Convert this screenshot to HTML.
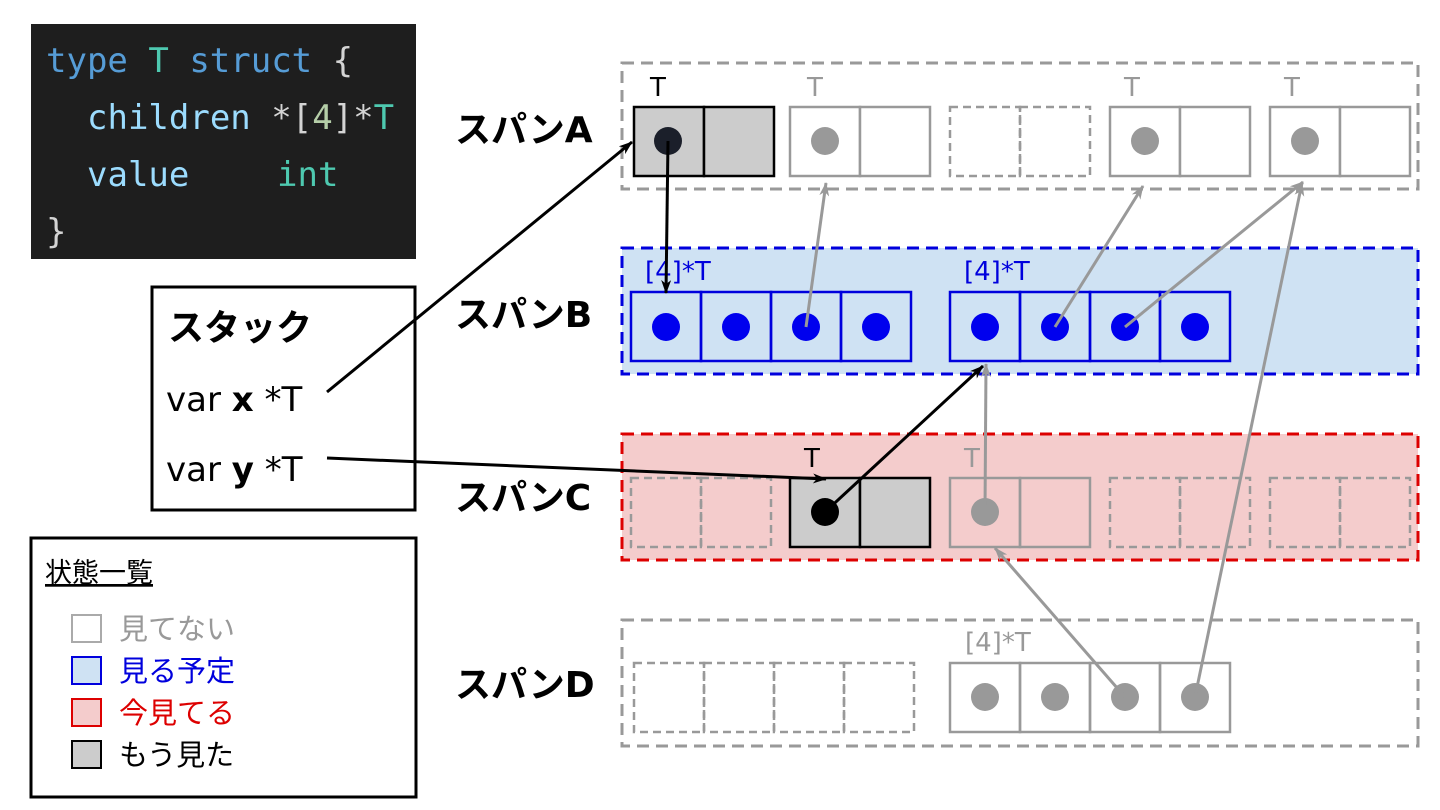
<!DOCTYPE html>
<html><head><meta charset="utf-8"><style>
html,body{margin:0;padding:0;background:#fff;}
svg{display:block;}
text{font-family:"DejaVu Sans","Noto Sans CJK JP",sans-serif;}
.jp{font-family:"Noto Sans CJK JP","DejaVu Sans",sans-serif;}
.mono{font-family:"DejaVu Sans Mono","Liberation Mono",monospace;}
</style></head><body>
<svg width="1440" height="810" viewBox="0 0 1440 810" xmlns="http://www.w3.org/2000/svg">
<defs>
<marker id="ab" markerWidth="14" markerHeight="10" refX="13" refY="5" orient="auto" markerUnits="userSpaceOnUse"><path d="M0,0 L14,5 L0,10 L4,5 z" fill="#000"/></marker>
<marker id="ag" markerWidth="14" markerHeight="10" refX="13" refY="5" orient="auto" markerUnits="userSpaceOnUse"><path d="M0,0 L14,5 L0,10 L4,5 z" fill="#999"/></marker>
</defs>

<rect x="31" y="24" width="385" height="235" fill="#1e1e1e"/>
<text class="mono" font-size="34" y="72"><tspan x="46" fill="#569cd6">type</tspan><tspan fill="#4ec9b0"> T</tspan><tspan fill="#569cd6"> struct</tspan><tspan fill="#d4d4d4"> {</tspan></text>
<text class="mono" font-size="34" y="129"><tspan x="87" fill="#9cdcfe">children</tspan><tspan fill="#d4d4d4"> *[</tspan><tspan fill="#b5cea8">4</tspan><tspan fill="#d4d4d4">]*</tspan><tspan fill="#4ec9b0">T</tspan></text>
<text class="mono" font-size="34" y="186"><tspan x="87" fill="#9cdcfe">value</tspan><tspan x="277" fill="#4ec9b0">int</tspan></text>
<text class="mono" font-size="34" y="243" x="46" fill="#d4d4d4">}</text>

<rect x="152" y="287" width="263" height="223" fill="#fff" stroke="#000" stroke-width="3"/>
<text class="jp" x="168" y="340" font-size="36" font-weight="bold">スタック</text>
<text x="166" y="411" font-size="34">var <tspan font-weight="bold">x</tspan> *T</text>
<text x="166" y="481" font-size="34">var <tspan font-weight="bold">y</tspan> *T</text>

<rect x="31" y="538" width="385" height="259" fill="#fff" stroke="#000" stroke-width="3"/>
<text class="jp" x="45" y="582" font-size="27" text-decoration="underline">状態一覧</text>
<rect x="72" y="615" width="29" height="27" fill="#fff" stroke="#aaa" stroke-width="2"/>
<text class="jp" x="119" y="639" font-size="29" fill="#999">見てない</text>
<rect x="72" y="657" width="29" height="27" fill="#cfe2f3" stroke="#0000dd" stroke-width="2"/>
<text class="jp" x="119" y="681" font-size="29" fill="#0000dd">見る予定</text>
<rect x="72" y="699" width="29" height="27" fill="#f4cccc" stroke="#dd0000" stroke-width="2"/>
<text class="jp" x="119" y="723" font-size="29" fill="#dd0000">今見てる</text>
<rect x="72" y="741" width="29" height="27" fill="#ccc" stroke="#000" stroke-width="2"/>
<text class="jp" x="119" y="765" font-size="29" fill="#000">もう見た</text>

<g class="jp" font-size="36" font-weight="bold">
<text x="455" y="142">スパンA</text>
<text x="455" y="327">スパンB</text>
<text x="455" y="510">スパンC</text>
<text x="455" y="697">スパンD</text>
</g>

<rect x="622" y="63" width="796" height="126" fill="none" stroke="#999" stroke-width="3" stroke-dasharray="12,7"/>
<rect x="622" y="248" width="796" height="126" fill="#cfe2f3" stroke="#0000dd" stroke-width="3" stroke-dasharray="12,7"/>
<rect x="622" y="434" width="796" height="126" fill="#f4cccc" stroke="#dd0000" stroke-width="3" stroke-dasharray="12,7"/>
<rect x="622" y="620" width="796" height="126" fill="none" stroke="#999" stroke-width="3" stroke-dasharray="12,7"/>

<g stroke-width="2.5">
<rect x="634" y="107" width="70" height="69" fill="#ccc" stroke="#000"/>
<rect x="704" y="107" width="70" height="69" fill="#ccc" stroke="#000"/>
<rect x="790" y="107" width="70" height="69" fill="#fff" stroke="#999"/>
<rect x="860" y="107" width="70" height="69" fill="#fff" stroke="#999"/>
<rect x="950" y="107" width="70" height="69" fill="none" stroke="#999" stroke-dasharray="8,5"/>
<rect x="1020" y="107" width="70" height="69" fill="none" stroke="#999" stroke-dasharray="8,5"/>
<rect x="1110" y="107" width="70" height="69" fill="#fff" stroke="#999"/>
<rect x="1180" y="107" width="70" height="69" fill="#fff" stroke="#999"/>
<rect x="1270" y="107" width="70" height="69" fill="#fff" stroke="#999"/>
<rect x="1340" y="107" width="70" height="69" fill="#fff" stroke="#999"/>
</g>
<circle cx="668" cy="141" r="14" fill="#1b1f2a"/>
<circle cx="825" cy="141" r="14" fill="#999"/>
<circle cx="1145" cy="141" r="14" fill="#999"/>
<circle cx="1305" cy="141" r="14" fill="#999"/>
<g font-size="26">
<text x="650" y="96">T</text>
<text x="807" y="96" fill="#999">T</text>
<text x="1124" y="96" fill="#999">T</text>
<text x="1284" y="96" fill="#999">T</text>
</g>

<g stroke="#0000dd" stroke-width="2.5" fill="none">
<rect x="631" y="292" width="70" height="69"/><rect x="701" y="292" width="70" height="69"/>
<rect x="771" y="292" width="70" height="69"/><rect x="841" y="292" width="70" height="69"/>
<rect x="950" y="292" width="70" height="69"/><rect x="1020" y="292" width="70" height="69"/>
<rect x="1090" y="292" width="70" height="69"/><rect x="1160" y="292" width="70" height="69"/>
</g>
<g fill="#0000ee">
<circle cx="666" cy="327" r="14"/><circle cx="736" cy="327" r="14"/><circle cx="806" cy="327" r="14"/><circle cx="876" cy="327" r="14"/>
<circle cx="985" cy="327" r="14"/><circle cx="1055" cy="327" r="14"/><circle cx="1125" cy="327" r="14"/><circle cx="1195" cy="327" r="14"/>
</g>
<g font-size="26" fill="#0000dd">
<text x="645" y="280">[4]*T</text>
<text x="964" y="280">[4]*T</text>
</g>

<g stroke-width="2.5">
<rect x="631" y="478" width="70" height="69" fill="none" stroke="#999" stroke-dasharray="8,5"/>
<rect x="701" y="478" width="70" height="69" fill="none" stroke="#999" stroke-dasharray="8,5"/>
<rect x="790" y="478" width="70" height="69" fill="#ccc" stroke="#000"/>
<rect x="860" y="478" width="70" height="69" fill="#ccc" stroke="#000"/>
<rect x="950" y="478" width="70" height="69" fill="none" stroke="#999"/>
<rect x="1020" y="478" width="70" height="69" fill="none" stroke="#999"/>
<rect x="1110" y="478" width="70" height="69" fill="none" stroke="#999" stroke-dasharray="8,5"/>
<rect x="1180" y="478" width="70" height="69" fill="none" stroke="#999" stroke-dasharray="8,5"/>
<rect x="1270" y="478" width="70" height="69" fill="none" stroke="#999" stroke-dasharray="8,5"/>
<rect x="1340" y="478" width="70" height="69" fill="none" stroke="#999" stroke-dasharray="8,5"/>
</g>
<circle cx="825" cy="512" r="14" fill="#000"/>
<circle cx="985" cy="512" r="14" fill="#999"/>
<g font-size="26">
<text x="804" y="467">T</text>
<text x="964" y="467" fill="#999">T</text>
</g>

<g stroke="#999" stroke-width="2.5" fill="none">
<rect x="634" y="663" width="70" height="69" stroke-dasharray="8,5"/><rect x="704" y="663" width="70" height="69" stroke-dasharray="8,5"/>
<rect x="774" y="663" width="70" height="69" stroke-dasharray="8,5"/><rect x="844" y="663" width="70" height="69" stroke-dasharray="8,5"/>
<rect x="950" y="663" width="70" height="69"/><rect x="1020" y="663" width="70" height="69"/>
<rect x="1090" y="663" width="70" height="69"/><rect x="1160" y="663" width="70" height="69"/>
</g>
<g fill="#999">
<circle cx="985" cy="697" r="14"/><circle cx="1055" cy="697" r="14"/><circle cx="1125" cy="697" r="14"/><circle cx="1195" cy="697" r="14"/>
</g>
<text x="965" y="651" font-size="26" fill="#999">[4]*T</text>

<g stroke-width="3" fill="none">
<line x1="806" y1="327" x2="826" y2="183" stroke="#999" marker-end="url(#ag)"/>
<line x1="1055" y1="327" x2="1143" y2="186" stroke="#999" marker-end="url(#ag)"/>
<line x1="1125" y1="327" x2="1303" y2="182" stroke="#999" marker-end="url(#ag)"/>
<line x1="985" y1="512" x2="986" y2="364" stroke="#999" marker-end="url(#ag)"/>
<line x1="1125" y1="697" x2="995" y2="548" stroke="#999" marker-end="url(#ag)"/>
<line x1="1195" y1="697" x2="1302" y2="183" stroke="#999" marker-end="url(#ag)"/>
<line x1="327" y1="392" x2="632" y2="142" stroke="#000" marker-end="url(#ab)"/>
<line x1="668" y1="141" x2="666" y2="293" stroke="#000" marker-end="url(#ab)"/>
<line x1="327" y1="458" x2="826" y2="479" stroke="#000" marker-end="url(#ab)"/>
<line x1="825" y1="512" x2="983" y2="366" stroke="#000" marker-end="url(#ab)"/>
</g>
</svg>
</body></html>
